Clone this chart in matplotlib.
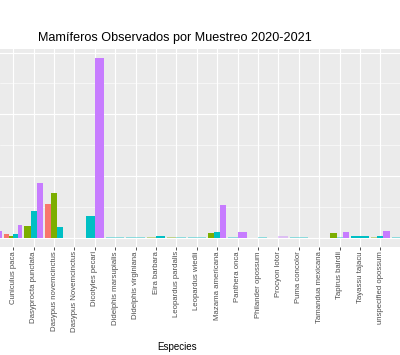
import numpy as np
import matplotlib
matplotlib.use("Agg")
import matplotlib.pyplot as plt

plt.rcParams['font.family'] = ['Liberation Sans', 'DejaVu Sans']

# species on the x axis (first and last are cut off by the frame)
species = ["Cabassous centralis", "Cuniculus paca", "Dasyprocta punctata",
           "Dasypus novemcinctus", "Dasypus Novemcinctus", "Dicotyles pecari",
           "Didelphis marsupialis", "Didelphis virginiana", "Eira barbara",
           "Leopardus pardalis", "Leopardus wiedii", "Mazama americana",
           "Panthera onca", "Philander opossum", "Procyon lotor", "Puma concolor",
           "Tamandua mexicana", "Tapirus bairdii", "Tayassu tajacu",
           "unspecified opossum", "unspecified possum"]

nan = np.nan
# one list per sampling group, nan = group absent for that species
muestreo_1 = [nan, 1.1, nan, 11.0, nan, nan, nan, nan, nan, nan, nan,
              nan, nan, nan, nan, nan, nan, nan, nan, nan, nan]
muestreo_2 = [nan, 0.5, 3.7, 14.5, nan, nan, nan, nan, 0.3, 0.3, nan,
              1.5, nan, 0.0, nan, nan, nan, 1.5, nan, 0.3, nan]
muestreo_3 = [nan, 1.2, 8.6, 3.5, 0.0, 7.1, 0.3, 0.3, 0.5, 0.3, 0.3,
              1.7, 0.3, 0.3, 0.0, 0.3, 0.0, 0.3, 0.6, 0.5, 0.3]
muestreo_4 = [2.1, 4.1, 17.8, nan, nan, 58.3, nan, nan, nan, nan, nan,
              10.5, 1.8, nan, 0.35, nan, nan, 1.8, nan, 2.1, nan]

groups = [muestreo_1, muestreo_2, muestreo_3, muestreo_4]
colors = ["#F8766D", "#7CAE00", "#00BFC4", "#C77CFF"]

W, H = 400, 355
fig = plt.figure(figsize=(W / 100, H / 100), dpi=100)

# panel extends past both sides of the picture
top_px, bot_px = 49.3, 246.5
ax = fig.add_axes([0, 1 - bot_px / H, 1, (bot_px - top_px) / H])
ax.set_facecolor("#EBEBEB")
for s in ax.spines.values():
    s.set_visible(False)

# dodge bars within each species, width shared by groups present
for i in range(len(species)):
    present = [g for g in range(4) if not np.isnan(groups[g][i])]
    if not present:
        continue
    w = 0.9 / len(present)
    for k, g in enumerate(present):
        v = groups[g][i]
        a = 0.4 if v < 0.4 else 1.0
        ax.bar(i - 0.45 + w * (k + 0.5), v, width=w, color=colors[g],
               alpha=a, zorder=3, linewidth=0)

ax.set_xticks(range(len(species)))
ax.set_xticklabels(species, rotation=90, fontsize=5.6, color="#4D4D4D")
ax.set_yticks([0, 20, 40, 60])
ax.set_yticks([10, 30, 50], minor=True)

# set limits after ticks so the ticks do not widen the view
x0, step = 13.2, 20.4
ax.set_xlim(1 - x0 / step, 1 + (W - x0) / step)
ax.set_ylim(-2.92, 61.1)

ax.tick_params(axis="x", length=1.8, width=0.6, color="#333333", pad=1.5)
ax.tick_params(axis="y", which="both", length=0, labelleft=False)
ax.grid(True, which="major", color="white", linewidth=0.8, zorder=0)
ax.grid(True, which="minor", axis="y", color="white", linewidth=0.4, zorder=0)
ax.set_axisbelow(True)

fig.text(175 / W, 1 - 38 / H, "Mamíferos Observados por Muestreo 2020-2021",
         ha="center", va="center", fontsize=9.1, color="black")
fig.text(177 / W, 1 - 347 / H, "Especies", ha="center", va="center",
         fontsize=7, color="black")

fig.savefig("out.png", dpi=100)
